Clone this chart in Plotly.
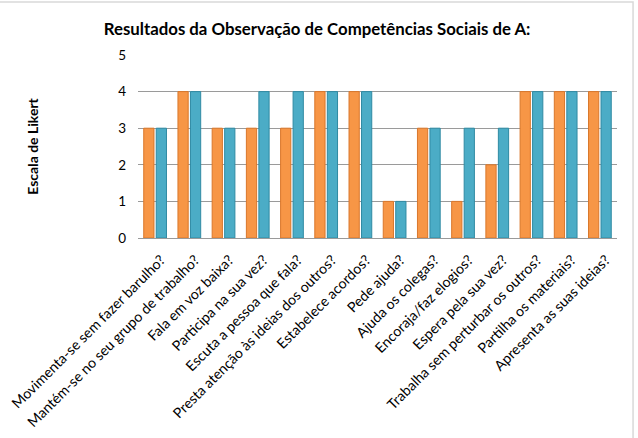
import plotly.graph_objects as go

categories = [
    "Movimenta-se sem fazer barulho?",
    "Mantém-se no seu grupo de trabalho?",
    "Fala em voz baixa?",
    "Participa na sua vez?",
    "Escuta a pessoa que fala?",
    "Presta atenção às ideias dos outros?",
    "Estabelece acordos?",
    "Pede ajuda?",
    "Ajuda os colegas?",
    "Encoraja/faz elogios?",
    "Espera pela sua vez?",
    "Trabalha sem perturbar os outros?",
    "Partilha os materiais?",
    "Apresenta as suas ideias?",
]
serie_laranja = [3, 4, 3, 3, 3, 4, 4, 1, 3, 1, 2, 4, 4, 4]
serie_azul = [3, 4, 3, 4, 4, 4, 4, 1, 3, 3, 3, 4, 4, 4]
y_ticks = [0, 1, 2, 3, 4, 5]

FONT = "Lato"

fig = go.Figure()
fig.add_trace(go.Bar(
    x=categories, y=serie_laranja, name="Série 1",
    marker=dict(color="#F79646", line=dict(color="#D9772B", width=1)),
))
fig.add_trace(go.Bar(
    x=categories, y=serie_azul, name="Série 2",
    marker=dict(color="#4BACC6", line=dict(color="#2F8AA3", width=1)),
))

fig.update_layout(
    width=638, height=438,
    margin=dict(l=138, r=21, t=55, b=200),
    paper_bgcolor="white", plot_bgcolor="white",
    showlegend=False,
    barmode="group", bargap=0.27, bargroupgap=0.18,
    font=dict(family=FONT, color="#000000", size=13),
    title=dict(
        text="<b>Resultados da Observação de Competências Sociais de A:</b>",
        x=0.497, xref="container", xanchor="center",
        y=0.934, yref="container", yanchor="middle",
        font=dict(family=FONT, size=16.8, color="#000000"),
    ),
    xaxis=dict(
        automargin=False,
        tickangle=-45, tickfont=dict(family=FONT, size=14.2, color="#000000"),
        showgrid=False, showline=False,
        ticks="", ticklabelstandoff=10, ticklabelshift=6,
    ),
    yaxis=dict(
        automargin=False,
        range=[0, 5], tickvals=y_ticks, showgrid=True,
        gridcolor="#9A9A9A", gridwidth=1, zeroline=True,
        zerolinecolor="#9A9A9A", zerolinewidth=1,
        showline=False, ticks="", ticklen=0, ticklabelstandoff=11,
        tickfont=dict(family=FONT, size=13.5, color="#000000"),
        title=dict(text="<b>Escala de Likert</b>", standoff=76,
                   font=dict(family=FONT, size=14, color="#000000")),
    ),
    shapes=[dict(
        type="rect", xref="paper", yref="paper",
        x0=-0.6, x1=1.0335, y0=-1.5, y1=1.29,
        line=dict(color="#D9D9D9", width=1.5), fillcolor="rgba(0,0,0,0)",
        layer="below",
    )],
)

fig.write_html("out.html", config={"displayModeBar": False},
               post_script="document.body.style.margin='0';")
